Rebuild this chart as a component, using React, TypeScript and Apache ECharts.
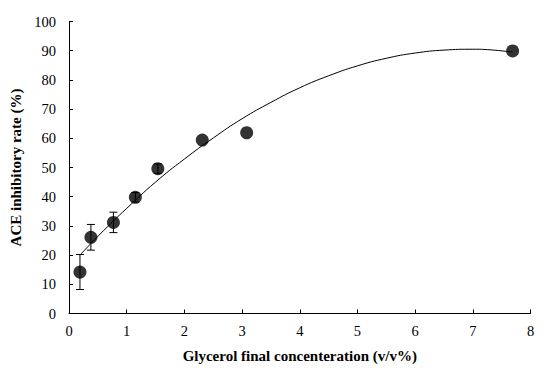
import React, { useEffect, useRef } from "react";
import * as echarts from "echarts";

const concentration = [0.19, 0.38, 0.77, 1.15, 1.54, 2.31, 3.08, 7.69];
const inhibition = [14.2, 26.1, 31.2, 39.8, 49.6, 59.4, 61.9, 89.9];
const errorValues = [6.0, 4.4, 3.5, 1.6, 1.6, 0, 0, 0];

// trend line (2nd-order polynomial)
const trendX = [0.19, 0.6, 1, 1.5, 2, 2.5, 3, 3.5, 4, 4.5, 5, 5.5, 6, 6.5, 7, 7.3, 7.69];
const trendY = [20.0, 28.4, 36.0, 45.0, 52.9, 60.1, 66.7, 72.3, 77.3, 81.4, 84.8, 87.4, 89.2, 90.2, 90.5, 90.3, 89.5];

const xTicks = [0, 1, 2, 3, 4, 5, 6, 7, 8];
const yTicks = [0, 10, 20, 30, 40, 50, 60, 70, 80, 90, 100];

const FONT = "'Liberation Serif', 'Times New Roman', serif";

export default function App() {
  const ref = useRef<HTMLDivElement>(null);
  useEffect(() => {
    if (!ref.current) return;
    const chart = echarts.init(ref.current, null, { renderer: "svg" });
    const pts = concentration.map((x, i) => [x, inhibition[i]]);
    const errData = concentration.map((x, i) => [x, inhibition[i] - errorValues[i], inhibition[i] + errorValues[i]]);
    const trend = trendX.map((x, i) => [x, trendY[i]]);
    chart.setOption({
      animation: false,
      backgroundColor: "#ffffff",
      grid: { left: 65.5, right: 19.5, top: 21.5, bottom: 60.5 },
      xAxis: {
        type: "value",
        min: xTicks[0],
        max: xTicks[xTicks.length - 1],
        interval: 1,
        name: "Glycerol final concenteration (v/v%)",
        nameLocation: "middle",
        nameGap: 35,
        nameTextStyle: { fontFamily: FONT, fontWeight: "bold", fontSize: 15, color: "#000" },
        axisLine: { lineStyle: { color: "#000", width: 1 } },
        axisTick: { inside: true, length: 4, lineStyle: { color: "#000" } },
        axisLabel: { fontFamily: FONT, fontSize: 14.5, color: "#000", margin: 10 },
        splitLine: { show: false },
      },
      yAxis: {
        type: "value",
        min: yTicks[0],
        max: yTicks[yTicks.length - 1],
        interval: 10,
        name: "ACE inhibitory rate (%)",
        nameLocation: "middle",
        nameGap: 46,
        nameTextStyle: { fontFamily: FONT, fontWeight: "bold", fontSize: 15, color: "#000" },
        axisLine: { show: true, lineStyle: { color: "#000", width: 1 } },
        axisTick: { show: true, inside: true, length: 4, lineStyle: { color: "#000" } },
        axisLabel: { fontFamily: FONT, fontSize: 14.5, color: "#000", margin: 13 },
        splitLine: { show: false },
      },
      series: [
        {
          type: "line",
          data: trend,
          smooth: true,
          showSymbol: false,
          lineStyle: { color: "#000", width: 1 },
          z: 1,
        },
        {
          type: "custom",
          data: errData,
          z: 2,
          renderItem: (params: any, api: any) => {
            const x = api.value(0);
            const lo = api.coord([x, api.value(1)]);
            const hi = api.coord([x, api.value(2)]);
            if (Math.abs(lo[1] - hi[1]) < 1) return { type: "group", children: [] };
            const w = 4;
            const style = { stroke: "#000", lineWidth: 1 };
            return {
              type: "group",
              children: [
                { type: "line", shape: { x1: lo[0], y1: lo[1], x2: hi[0], y2: hi[1] }, style },
                { type: "line", shape: { x1: lo[0] - w, y1: lo[1], x2: lo[0] + w, y2: lo[1] }, style },
                { type: "line", shape: { x1: hi[0] - w, y1: hi[1], x2: hi[0] + w, y2: hi[1] }, style },
              ],
            };
          },
        },
        {
          type: "scatter",
          data: pts,
          symbol: "circle",
          symbolSize: 13,
          itemStyle: { color: "#000" },
          z: 3,
        },
      ],
    });
    return () => chart.dispose();
  }, []);
  return <div ref={ref} style={{ width: 550, height: 374, position: "absolute", left: 0, top: 0 }} />;
}
